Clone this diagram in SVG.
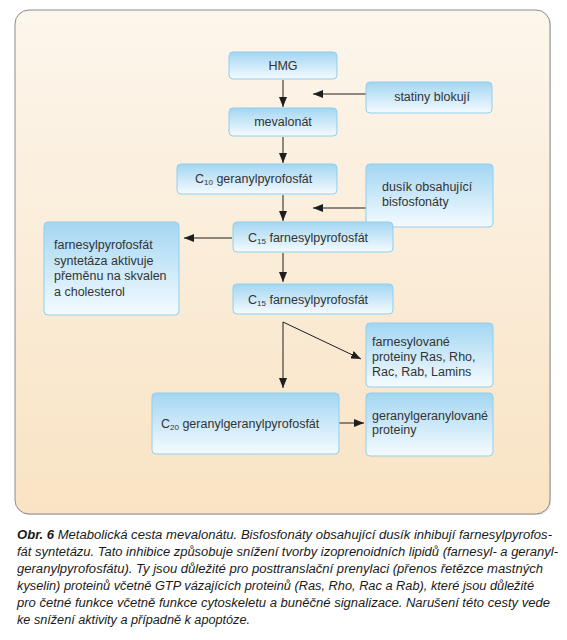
<svg xmlns="http://www.w3.org/2000/svg" width="567" height="640" viewBox="0 0 567 640">
<defs>
<linearGradient id="panelG" x1="0" y1="0" x2="0" y2="1">
<stop offset="0" stop-color="#fcf6ec"/>
<stop offset="1" stop-color="#f9e3c4"/>
</linearGradient>
<linearGradient id="boxG" x1="0" y1="0" x2="0" y2="1">
<stop offset="0" stop-color="#a3d6f2"/>
<stop offset="1" stop-color="#f5fbff"/>
</linearGradient>
<marker id="ah" viewBox="0 0 10 8" refX="10" refY="4" markerWidth="10" markerHeight="8" markerUnits="userSpaceOnUse" orient="auto">
<path d="M0,0 L10,4 L0,8 z" fill="#1e1e1e"/>
</marker>
<style>
.box{fill:url(#boxG);stroke:#8fcfee;stroke-width:1}
.t{font-family:"Liberation Sans",Arial,sans-serif;font-size:12.5px;fill:#333}
.c{text-anchor:middle}
.sub{font-size:8px}
.cn{fill:none;stroke:#1e1e1e;stroke-width:1}
.cap{font-family:"Liberation Sans",Arial,sans-serif;font-size:12px;font-style:italic;fill:#1a1a1a}
</style>
</defs>
<rect x="16" y="11" width="535" height="504" rx="14" fill="#c9c2b8" opacity="0.5"/>
<rect x="15" y="10" width="535" height="504" rx="14" fill="url(#panelG)" stroke="#8c8c8c" stroke-width="1"/>
<g id="connectors">
<path class="cn" d="M283,80 V107" marker-end="url(#ah)"/>
<path class="cn" d="M366,94 H313" marker-end="url(#ah)"/>
<path class="cn" d="M283,137 V163" marker-end="url(#ah)"/>
<path class="cn" d="M283,195 V221" marker-end="url(#ah)"/>
<path class="cn" d="M366,208 H313" marker-end="url(#ah)"/>
<path class="cn" d="M232,238 H184" marker-end="url(#ah)"/>
<path class="cn" d="M283,253 V282" marker-end="url(#ah)"/>
<path class="cn" d="M283,322 V388" marker-end="url(#ah)"/>
<path class="cn" d="M283,322 L361,359" marker-end="url(#ah)"/>
<path class="cn" d="M339,423 H364" marker-end="url(#ah)"/>
</g>
<g id="hmg">
<rect class="box" x="229" y="52" width="108" height="27" rx="4"/>
<text class="t c" x="283" y="70">HMG</text>
</g>
<g id="statiny">
<rect class="box" x="366" y="82" width="126" height="31" rx="4"/>
<text class="t c" x="432" y="101">statiny blokují</text>
</g>
<g id="mevalonat">
<rect class="box" x="229" y="108" width="108" height="28" rx="4"/>
<text class="t c" x="283" y="126">mevalonát</text>
</g>
<g id="c10">
<rect class="box" x="177" y="164" width="160" height="30" rx="4"/>
<text class="t" x="195" y="183">C<tspan class="sub" dy="2">10</tspan><tspan dy="-2"> geranylpyrofosfát</tspan></text>
</g>
<g id="dusik">
<rect class="box" x="366" y="164" width="127" height="63" rx="4"/>
<text class="t" x="382" y="191">dusík obsahující</text>
<text class="t" x="382" y="206">bisfosfonáty</text>
</g>
<g id="syntetaza">
<rect class="box" x="44" y="222" width="135" height="93" rx="4"/>
<text class="t" x="54" y="249">farnesylpyrofosfát</text>
<text class="t" x="54" y="264.5">syntetáza aktivuje</text>
<text class="t" x="54" y="280">přeměnu na skvalen</text>
<text class="t" x="54" y="295.5">a cholesterol</text>
</g>
<g id="c15a">
<rect class="box" x="233" y="222" width="160" height="30" rx="4"/>
<text class="t" x="248" y="242">C<tspan class="sub" dy="2">15</tspan><tspan dy="-2"> farnesylpyrofosfát</tspan></text>
</g>
<g id="c15b">
<rect class="box" x="233" y="284" width="160" height="30" rx="4"/>
<text class="t" x="248" y="304">C<tspan class="sub" dy="2">15</tspan><tspan dy="-2"> farnesylpyrofosfát</tspan></text>
</g>
<g id="farnesylovane">
<rect class="box" x="366" y="323" width="127" height="64" rx="4"/>
<text class="t" x="372" y="346">farnesylované</text>
<text class="t" x="372" y="361">proteiny Ras, Rho,</text>
<text class="t" x="372" y="375.5">Rac, Rab, Lamins</text>
</g>
<g id="c20">
<rect class="box" x="152" y="393" width="187" height="61" rx="4"/>
<text class="t" x="161" y="428">C<tspan class="sub" dy="2">20</tspan><tspan dy="-2"> geranylgeranylpyrofosfát</tspan></text>
</g>
<g id="geranylgeranylovane">
<rect class="box" x="366" y="393" width="127" height="63" rx="4"/>
<text class="t" x="372" y="420">geranylgeranylované</text>
<text class="t" x="372" y="434">proteiny</text>
</g>
<g id="caption">
<text class="cap" x="17" y="539" textLength="535" lengthAdjust="spacingAndGlyphs"><tspan font-weight="bold">Obr. 6</tspan>  Metabolická cesta mevalonátu. Bisfosfonáty obsahující dusík inhibují farnesylpyrofos-</text>
<text class="cap" x="17" y="556" textLength="541" lengthAdjust="spacingAndGlyphs">fát syntetázu. Tato inhibice způsobuje snížení tvorby izoprenoidních lipidů (farnesyl- a geranyl-</text>
<text class="cap" x="17" y="573" textLength="526" lengthAdjust="spacingAndGlyphs">geranylpyrofosfátu). Ty jsou důležité pro posttranslační prenylaci (přenos řetězce mastných</text>
<text class="cap" x="17" y="590" textLength="517" lengthAdjust="spacingAndGlyphs">kyselin) proteinů včetně GTP vázajících proteinů (Ras, Rho, Rac a Rab), které jsou důležité</text>
<text class="cap" x="17" y="607" textLength="533" lengthAdjust="spacingAndGlyphs">pro četné funkce včetně funkce cytoskeletu a buněčné signalizace. Narušení této cesty vede</text>
<text class="cap" x="17" y="624" textLength="233" lengthAdjust="spacingAndGlyphs">ke snížení aktivity a případně k apoptóze.</text>
</g>
</svg>
